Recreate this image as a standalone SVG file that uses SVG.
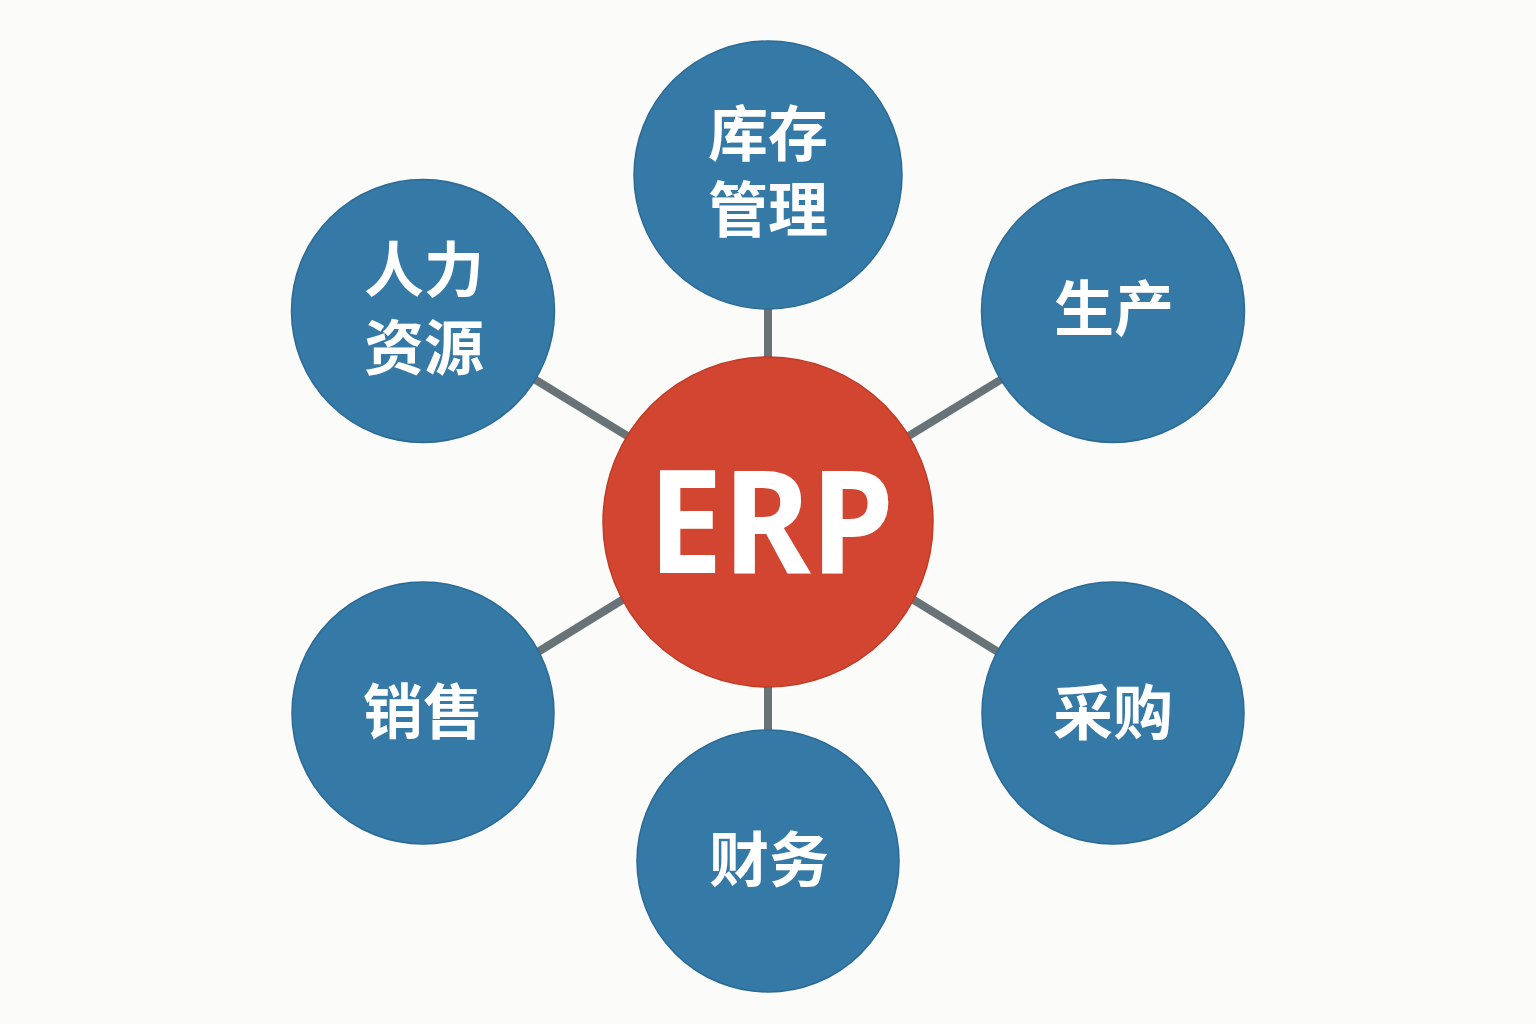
<svg xmlns="http://www.w3.org/2000/svg" width="1536" height="1024" viewBox="0 0 1536 1024">
<style>
.bg{fill:#fbfbf9}
.conn line{stroke:#687378;stroke-width:8}
.mod{fill:#3579a6;stroke:#2b6a96;stroke-width:1.5}
.hub{fill:#d24631;stroke:#c13a26;stroke-width:1.5}
.lbl{font-family:"Noto Sans CJK SC","Noto Sans",sans-serif;font-weight:700;font-size:60px;fill:#ffffff;text-anchor:middle;dominant-baseline:central}
.erp{font-family:"Noto Sans","Liberation Sans",sans-serif;font-weight:700;font-size:144px;fill:#ffffff;text-anchor:middle}
</style>
<rect class="bg" width="1536" height="1024"/>
<g id="connectors" class="conn">
<line x1="768" y1="522" x2="768" y2="175"/>
<line x1="768" y1="522" x2="423" y2="311"/>
<line x1="768" y1="522" x2="1113" y2="311"/>
<line x1="520" y1="663" x2="640" y2="589"/>
<line x1="1016" y1="663" x2="896" y2="589"/>
<line x1="768" y1="522" x2="768" y2="861"/>
</g>
<g id="node-inventory">
<circle class="mod" cx="768" cy="175" r="134"/>
<text class="lbl"><tspan x="768" y="129">库存</tspan><tspan x="768" y="205">管理</tspan></text>
</g>
<g id="node-hr">
<circle class="mod" cx="423" cy="311" r="131.5"/>
<text class="lbl"><tspan x="424" y="265">人力</tspan><tspan x="424" y="343">资源</tspan></text>
</g>
<g id="node-production">
<circle class="mod" cx="1113" cy="311" r="131.5"/>
<text class="lbl" x="1114" y="304">生产</text>
</g>
<g id="node-sales">
<circle class="mod" cx="423" cy="713" r="131"/>
<text class="lbl" x="423" y="707">销售</text>
</g>
<g id="node-purchasing">
<circle class="mod" cx="1113" cy="713" r="131"/>
<text class="lbl" x="1113" y="708">采购</text>
</g>
<g id="node-finance">
<circle class="mod" cx="768" cy="861" r="131"/>
<text class="lbl" x="769" y="855">财务</text>
</g>
<g id="node-erp">
<circle class="hub" cx="768" cy="522" r="165"/>
<text class="erp" x="771" y="573" textLength="246" lengthAdjust="spacingAndGlyphs">ERP</text>
</g>
</svg>
